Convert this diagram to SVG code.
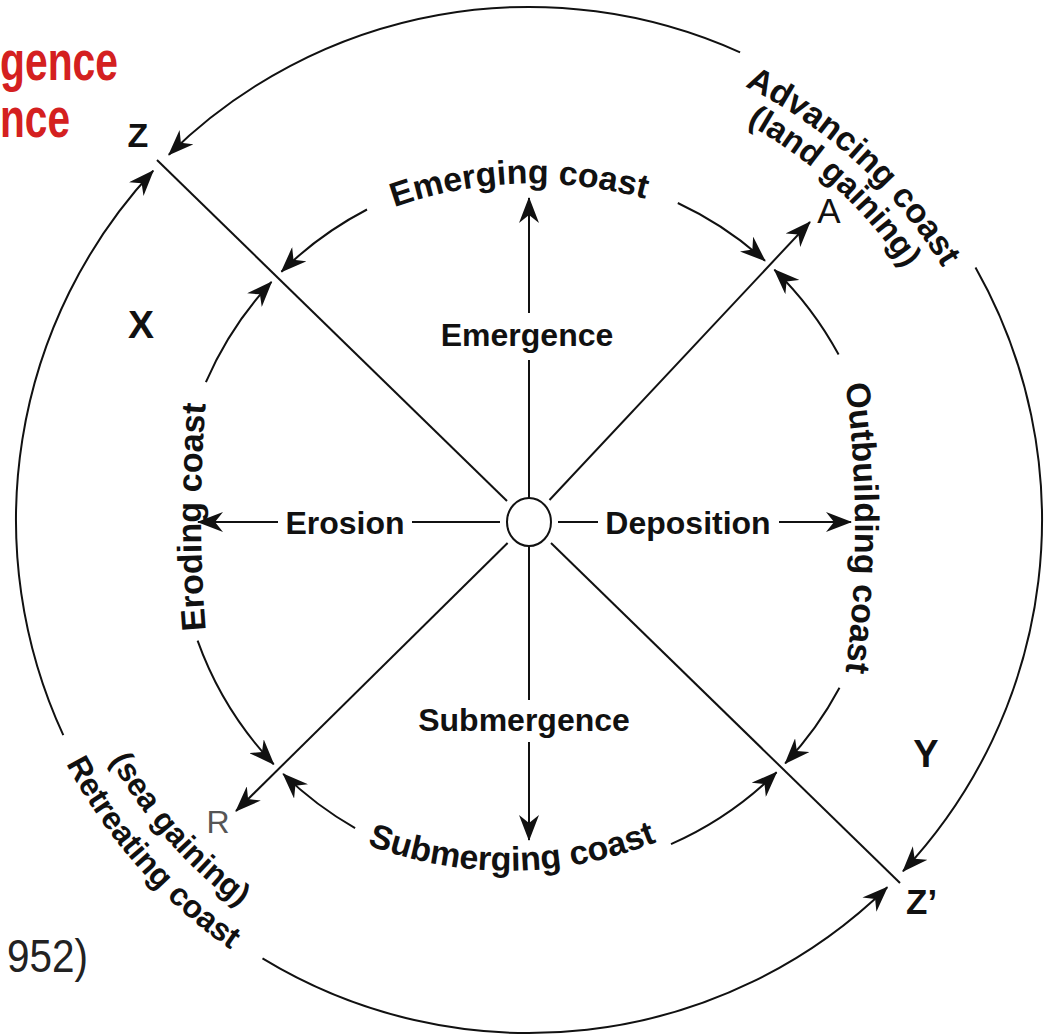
<svg xmlns="http://www.w3.org/2000/svg" width="1051" height="1036" viewBox="0 0 1051 1036">
<defs>
<style>
.ln{fill:none;stroke:#111;stroke-width:2}
.ar{marker-end:url(#ah)}
.t{font-family:"Liberation Sans",Arial,sans-serif;font-weight:bold;fill:#111}
.c{font-size:34px}
.m{font-size:32px}
.red{font-family:"Liberation Sans",Arial,sans-serif;font-weight:bold;fill:#d42020;font-size:56px}
</style>
<marker id="ah" markerUnits="userSpaceOnUse" markerWidth="26" markerHeight="20" refX="25" refY="10" orient="auto">
<path d="M0,0 L26,10 L0,20 L8,10 Z" fill="#111"/>
</marker>
<path id="tpEm" d="M390,209 Q515,163 650,200"/>
<path id="tpSub" d="M362,843 Q512,900 662,840"/>
<path id="tpEro" d="M207,645 Q195,517 207,389"/>
<path id="tpOut" d="M845,380 Q865,528 845,676"/>
<path id="tpAdv" d="M595.2,40.1 A484,484 0 0 1 1001.5,413.1"/>
<path id="tpLand" d="M588,71.9 A452,452 0 0 1 970.3,422.2"/>
<path id="tpSea" d="M49.1,574.7 A483,483 0 0 0 416.3,989.7"/>
<path id="tpRet" d="M9.4,579.2 A523,523 0 0 0 406.9,1028.6"/>
</defs>
<rect width="1051" height="1036" fill="#fff"/>

<g id="connectors">
<path class="ln ar" d="M740.1,52.4 A513,513 0 0 0 168.8,154.7"/>
<path class="ln ar" d="M63.3,735.2 A513,513 0 0 1 153.2,170.8"/>
<path class="ln ar" d="M975.5,267.4 A513,513 0 0 1 903,871.2"/>
<path class="ln ar" d="M262.5,958.4 A513,513 0 0 0 887.3,887.2"/>
<path class="ln ar" d="M367,209.5 A352,352 0 0 0 281.4,271.8"/>
<path class="ln ar" d="M677.8,203 A352,352 0 0 1 765,260.8"/>
<path class="ln ar" d="M205.9,382.2 A352,352 0 0 1 271.5,281.9"/>
<path class="ln ar" d="M197.6,640.7 A352,352 0 0 0 273.7,764.3"/>
<path class="ln ar" d="M838.6,354.6 A352,352 0 0 0 774.4,269.7"/>
<path class="ln ar" d="M839.5,687.8 A352,352 0 0 1 785.2,763.4"/>
<path class="ln ar" d="M355.1,828.1 A352,352 0 0 1 283.2,773.9"/>
<path class="ln ar" d="M671,844.1 A352,352 0 0 0 776.6,772.2"/>
<path class="ln" d="M157,160 L507,501"/>
<path class="ln" d="M551,543 L900,883"/>
<path class="ln ar" d="M549.5,500 L810,222"/>
<path class="ln ar" d="M507.6,543 L236,811"/>
<path class="ln" d="M529,498 L529,360"/>
<path class="ln ar" d="M529,313 L529,198"/>
<path class="ln" d="M529,547 L529,700"/>
<path class="ln ar" d="M529,742 L529,840"/>
<path class="ln" d="M500,522 L412,522"/>
<path class="ln ar" d="M278,522 L198,522"/>
<path class="ln" d="M558,522 L598,522"/>
<path class="ln ar" d="M779,522 L851,522"/>
</g>

<g id="node-centre"><ellipse cx="529" cy="522" rx="22" ry="24" fill="#fff" stroke="#111" stroke-width="2"/></g>

<g id="node-emergence"><text class="t m" x="527" y="346" text-anchor="middle">Emergence</text></g>
<g id="node-submergence"><text class="t m" x="524" y="731" text-anchor="middle">Submergence</text></g>
<g id="node-erosion"><text class="t m" x="345" y="534" text-anchor="middle">Erosion</text></g>
<g id="node-deposition"><text class="t m" x="688" y="534" text-anchor="middle">Deposition</text></g>

<g id="node-emerging-coast"><text class="t c"><textPath href="#tpEm" startOffset="50%" text-anchor="middle">Emerging coast</textPath></text></g>
<g id="node-submerging-coast"><text class="t c"><textPath href="#tpSub" startOffset="50%" text-anchor="middle">Submerging coast</textPath></text></g>
<g id="node-eroding-coast"><text class="t c"><textPath href="#tpEro" startOffset="50%" text-anchor="middle">Eroding coast</textPath></text></g>
<g id="node-outbuilding-coast"><text class="t c"><textPath href="#tpOut" startOffset="50%" text-anchor="middle">Outbuilding coast</textPath></text></g>

<g id="node-advancing">
<text class="t c"><textPath href="#tpAdv" startOffset="50%" text-anchor="middle">Advancing coast</textPath></text>
<text class="t" font-size="33"><textPath href="#tpLand" startOffset="50%" text-anchor="middle">(land gaining)</textPath></text>
</g>
<g id="node-retreating">
<text class="t" font-size="32"><textPath href="#tpSea" startOffset="50%" text-anchor="middle">(sea gaining)</textPath></text>
<text class="t" font-size="32"><textPath href="#tpRet" startOffset="50%" text-anchor="middle">Retreating coast</textPath></text>
</g>

<g id="node-z"><text class="t" font-size="34" x="138" y="147" text-anchor="middle">Z</text></g>
<g id="node-z2"><text class="t" font-size="35" x="906" y="914">Z’</text></g>
<g id="node-x"><text class="t" font-size="39" x="141" y="338" text-anchor="middle">X</text></g>
<g id="node-y"><text class="t" font-size="38" x="926" y="767" text-anchor="middle">Y</text></g>
<g id="node-a"><text x="829" y="223" text-anchor="middle" font-family="Liberation Sans, Arial, sans-serif" font-size="35" fill="#111">A</text></g>
<g id="node-r"><text x="218" y="833" text-anchor="middle" font-family="Liberation Sans, Arial, sans-serif" font-size="32" fill="#555">R</text></g>

<g id="caption">
<text class="red" x="0" y="80" textLength="118" lengthAdjust="spacingAndGlyphs">gence</text>
<text class="red" x="0" y="137" textLength="70" lengthAdjust="spacingAndGlyphs">nce</text>
<text x="7" y="972" font-family="Liberation Sans, Arial, sans-serif" font-size="46" fill="#222" textLength="81" lengthAdjust="spacingAndGlyphs">952)</text>
</g>
</svg>
